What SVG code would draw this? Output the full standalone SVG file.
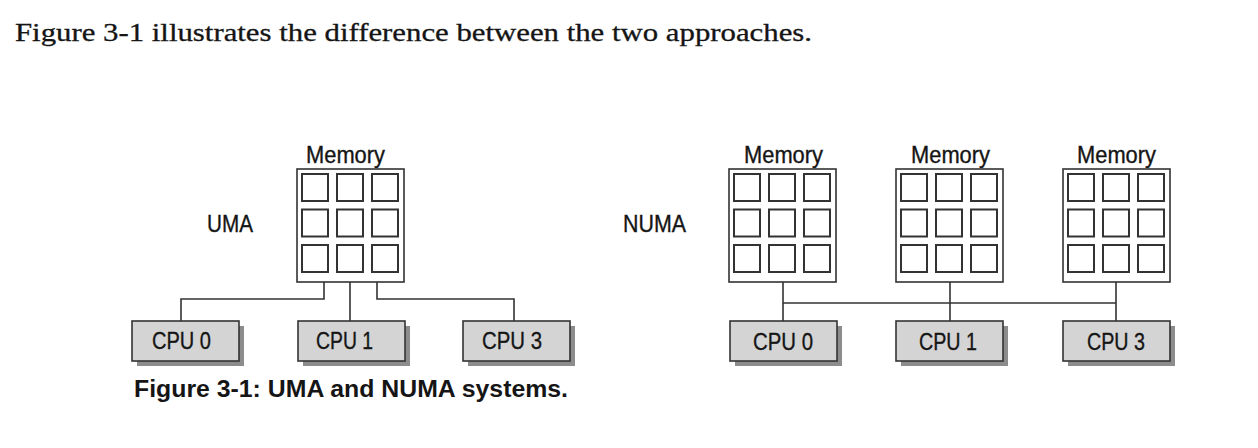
<svg xmlns="http://www.w3.org/2000/svg" width="1258" height="448" viewBox="0 0 1258 448">
<style>
.t{font-family:"Liberation Sans",Arial,sans-serif;font-size:24.5px;fill:#151515;stroke:#151515;stroke-width:0.35}
.cap{font-family:"Liberation Sans",Arial,sans-serif;font-size:23px;font-weight:bold;fill:#151515}
.body{font-family:"Liberation Serif","Times New Roman",serif;font-size:25px;fill:#151515;stroke:#151515;stroke-width:0.3}
.mem{fill:#fff;stroke:#333;stroke-width:1.6}
.cell{fill:#fff;stroke:#333;stroke-width:2}
.cpu{fill:#d4d4d4;stroke:#333;stroke-width:1.6}
.sh{fill:#8c8c8c}
.ln{fill:none;stroke:#333;stroke-width:1.6}
</style>
<defs>
<g id="grid">
<rect class="mem" x="0" y="0" width="107" height="113"/>
<rect class="cell" x="5" y="5" width="26" height="27"/>
<rect class="cell" x="40" y="5" width="26" height="27"/>
<rect class="cell" x="75" y="5" width="26" height="27"/>
<rect class="cell" x="5" y="40.5" width="26" height="27"/>
<rect class="cell" x="40" y="40.5" width="26" height="27"/>
<rect class="cell" x="75" y="40.5" width="26" height="27"/>
<rect class="cell" x="5" y="76" width="26" height="27"/>
<rect class="cell" x="40" y="76" width="26" height="27"/>
<rect class="cell" x="75" y="76" width="26" height="27"/>
</g>
<g id="cpubox">
<rect class="sh" x="5" y="5" width="107" height="40"/>
<rect class="cpu" x="0" y="0" width="107" height="40"/>
</g>
</defs>
<text class="body" x="15" y="41" textLength="797" lengthAdjust="spacingAndGlyphs">Figure 3-1 illustrates the difference between the two approaches.</text>

<g id="connectors">
<path class="ln" d="M324,282 V299 H181 V321"/>
<path class="ln" d="M350,282 V321"/>
<path class="ln" d="M377,282 V299 H514 V321"/>
<path class="ln" d="M783,282 V321 M950,282 V321 M1116,282 V321 M783,303 H1116"/>
</g>

<g id="uma-label"><text class="t" x="207" y="232" textLength="46" lengthAdjust="spacingAndGlyphs">UMA</text></g>
<g id="numa-label"><text class="t" x="623" y="232" textLength="63" lengthAdjust="spacingAndGlyphs">NUMA</text></g>

<g id="uma-memory">
<text class="t" x="306" y="163" textLength="79" lengthAdjust="spacingAndGlyphs">Memory</text>
<use href="#grid" x="297" y="169"/>
</g>
<g id="numa-memory-0">
<text class="t" x="744" y="163" textLength="79" lengthAdjust="spacingAndGlyphs">Memory</text>
<use href="#grid" x="729" y="169"/>
</g>
<g id="numa-memory-1">
<text class="t" x="911" y="163" textLength="79" lengthAdjust="spacingAndGlyphs">Memory</text>
<use href="#grid" x="896" y="169"/>
</g>
<g id="numa-memory-2">
<text class="t" x="1077" y="163" textLength="79" lengthAdjust="spacingAndGlyphs">Memory</text>
<use href="#grid" x="1063" y="169"/>
</g>

<g id="uma-cpu0"><use href="#cpubox" x="132" y="321"/><text class="t" x="152" y="349" textLength="59" lengthAdjust="spacingAndGlyphs">CPU 0</text></g>
<g id="uma-cpu1"><use href="#cpubox" x="298" y="321"/><text class="t" x="316" y="349" textLength="57" lengthAdjust="spacingAndGlyphs">CPU 1</text></g>
<g id="uma-cpu3"><use href="#cpubox" x="463" y="321"/><text class="t" x="482" y="349" textLength="60" lengthAdjust="spacingAndGlyphs">CPU 3</text></g>

<g id="numa-cpu0"><use href="#cpubox" x="730" y="321"/><text class="t" x="753" y="349.5" textLength="60" lengthAdjust="spacingAndGlyphs">CPU 0</text></g>
<g id="numa-cpu1"><use href="#cpubox" x="896" y="321"/><text class="t" x="919" y="349.5" textLength="58" lengthAdjust="spacingAndGlyphs">CPU 1</text></g>
<g id="numa-cpu3"><use href="#cpubox" x="1063" y="321"/><text class="t" x="1087" y="349.5" textLength="58" lengthAdjust="spacingAndGlyphs">CPU 3</text></g>

<text class="cap" x="134" y="397" textLength="434" lengthAdjust="spacingAndGlyphs">Figure 3-1: UMA and NUMA systems.</text>
</svg>
